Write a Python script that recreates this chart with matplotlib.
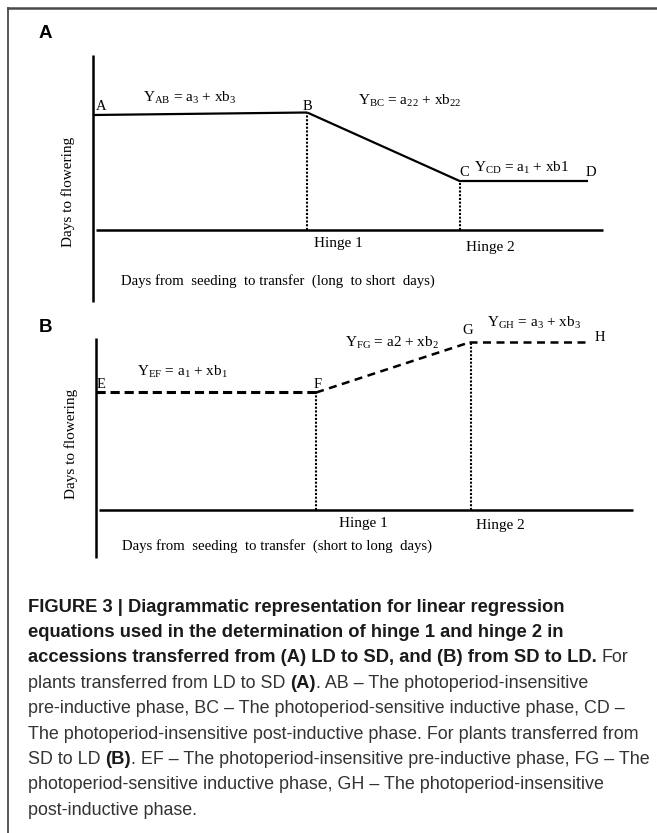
import matplotlib
matplotlib.use("Agg")
import matplotlib.pyplot as plt

W, H, DPI = 657, 833, 100
plt.rcParams['mathtext.fontset'] = 'custom'
plt.rcParams['mathtext.rm'] = 'Liberation Serif'
plt.rcParams['mathtext.it'] = 'Liberation Serif:italic'
plt.rcParams['mathtext.bf'] = 'Liberation Serif:bold'

# ---------------- data ----------------
# Panel A: LD -> SD  (points A, B, C, D)
a_labels = ['A', 'B', 'C', 'D']
a_x = [0, 42, 72, 97]
a_y = [46, 47, 19.5, 19.5]
a_hinges = ['Hinge 1', 'Hinge 2']
a_eqs = [r'Y$_{\mathrm{AB}}$ = a$_3$ + xb$_3$',
         r'Y$_{\mathrm{BC}}$ = a$_{22}$ + xb$_{22}$',
         r'Y$_{\mathrm{CD}}$ = a$_1$ + xb1']
a_xlabel = 'Days from  seeding  to transfer  (long  to short  days)'

# Panel B: SD -> LD  (points E, F, G, H)
b_labels = ['E', 'F', 'G', 'H']
b_x = [0, 41, 69.5, 92]
b_y = [47, 47, 67, 67]
b_hinges = ['Hinge 1', 'Hinge 2']
b_eqs = [r'Y$_{\mathrm{EF}}$ = a$_1$ + xb$_1$',
         r'Y$_{\mathrm{FG}}$ = a2 + xb$_2$',
         r'Y$_{\mathrm{GH}}$ = a$_3$ + xb$_3$']
b_xlabel = 'Days from  seeding  to transfer  (short to long  days)'
ylabel = 'Days to flowering'

caption = [
    [("FIGURE 3 | Diagrammatic representation for linear regression", True)],
    [("equations used in the determination of hinge 1 and hinge 2 in", True)],
    [("accessions transferred from (A) LD to SD, and (B) from SD to LD.", True), ("For", False)],
    [("plants transferred from LD to SD", False), ("(A)", True), (". AB \u2013 The photoperiod-insensitive", False)],
    [("pre-inductive phase, BC \u2013 The photoperiod-sensitive inductive phase, CD \u2013", False)],
    [("The photoperiod-insensitive post-inductive phase. For plants transferred from", False)],
    [("SD to LD", False), ("(B)", True), (". EF \u2013 The photoperiod-insensitive pre-inductive phase, FG \u2013 The", False)],
    [("photoperiod-sensitive inductive phase, GH \u2013 The photoperiod-insensitive", False)],
    [("post-inductive phase.", False)],
]

# ---------------- figure ----------------
fig = plt.figure(figsize=(W / DPI, H / DPI), dpi=DPI)
fig.patch.set_facecolor('white')


def P(x, y):
    return x / W, 1 - y / H


SERIF = 'Liberation Serif'
CH = 11
EQ = 11

# frame (left and top only)
fig.add_artist(plt.Line2D([8 / W, 8 / W], [0, 1 - 8 / H], color='#4a4a4a', lw=1.3,
                          transform=fig.transFigure))
fig.add_artist(plt.Line2D([8 / W, 1], [1 - 8 / H, 1 - 8 / H], color='#4a4a4a', lw=1.8,
                          transform=fig.transFigure))


def panel(rect_px, ylim, xs, ys, dashed, hinge_mark_x):
    l, t, r, b = rect_px
    ax = fig.add_axes([l / W, 1 - b / H, (r - l) / W, (b - t) / H])
    ax.set_xlim(0, 100)
    ax.set_ylim(*ylim)
    ax.axis('off')
    # axes lines
    ax.plot([0, 0], [ylim[0], ylim[1]], color='black', lw=1.8, clip_on=False,
            solid_capstyle='butt')
    ax.plot([0.5, 100], [0, 0], color='black', lw=1.8, clip_on=False,
            solid_capstyle='butt')
    # segments
    for i in range(len(xs) - 1):
        if dashed:
            lw = 2.2 if i == 0 else 1.8
            ax.plot(xs[i:i + 2], ys[i:i + 2], color='black', lw=lw,
                    linestyle=(0, (3, 1.6)) if i == 0 else (0, (3.2, 2.2)),
                    clip_on=False)
        else:
            ax.plot(xs[i:i + 2], ys[i:i + 2], color='black', lw=1.6,
                    clip_on=False, solid_capstyle='butt')
    # hinge dotted drops
    for k, hx in enumerate(hinge_mark_x):
        ax.plot([hx, hx], [0, ys[k + 1]], color='black', lw=1.5,
                linestyle=(0, (1.0, 0.8)), clip_on=False)
    return ax


axA = panel((93, 55, 603, 302), (-28.8, 70), a_x, a_y, False, [a_x[1], a_x[2]])
axB = panel((96, 338, 633, 558), (-19.2, 68.8), b_x, b_y, True, [b_x[1], 69.8])


def T(x, y, s, size=CH, **kw):
    kw.setdefault('ha', 'center')
    kw.setdefault('va', 'center')
    fig.text(*P(x, y), s, fontsize=size, family=SERIF, **kw)


# Panel A texts
fig.text(*P(45, 34), 'A', fontsize=13.5, family='Liberation Sans', weight='bold',
         ha='center', va='center')
for lab, (px, py) in zip(a_labels, [(101, 107), (307, 106), (464, 173), (591, 173)]):
    T(px, py, lab, size=10.5)
for eq, (px, py) in zip(a_eqs, [(190, 98), (410, 101), (522, 168)]):
    T(px, py, eq, size=EQ)
for hl, (px, py) in zip(a_hinges, [(338, 243), (490, 248)]):
    T(px, py, hl)
T(278, 281, a_xlabel, size=10.6)
T(68, 192, ylabel, rotation=90)

# Panel B texts
fig.text(*P(45, 327), 'B', fontsize=13.5, family='Liberation Sans', weight='bold',
         ha='center', va='center')
for lab, (px, py) in zip(b_labels, [(101, 385), (318, 385), (468, 331), (600, 338)]):
    T(px, py, lab, size=10.5)
for eq, (px, py) in zip(b_eqs, [(183, 372), (392, 343), (534, 323)]):
    T(px, py, eq, size=EQ)
for hl, (px, py) in zip(b_hinges, [(363, 524), (500, 526)]):
    T(px, py, hl)
T(277, 546, b_xlabel, size=10.6)
T(71, 444, ylabel, rotation=90)

# Caption
renderer = fig.canvas.get_renderer()
CAP = 'Liberation Sans'
CS_REG = 12.9
CS_BOLD = 13.2
probe1 = fig.text(0, 0, 'a a', fontsize=CS_REG, family=CAP)
probe2 = fig.text(0, 0, 'aa', fontsize=CS_REG, family=CAP)
space_px = probe1.get_window_extent(renderer).width - probe2.get_window_extent(renderer).width
probe1.remove()
probe2.remove()

base0 = 611.6
step = 25.4
for li, segs in enumerate(caption):
    x = 28.0
    y = base0 + li * step
    for si, (s, bold) in enumerate(segs):
        if si > 0 and not s.startswith('.'):
            x += space_px
        t = fig.text(*P(x, y), s, fontsize=CS_BOLD if bold else CS_REG, family=CAP,
                     weight='bold' if bold else 'normal',
                     color='#1a1a1a' if bold else '#333333',
                     ha='left', va='baseline')
        x = t.get_window_extent(renderer).x1

fig.savefig('out.png', dpi=DPI, facecolor='white')
